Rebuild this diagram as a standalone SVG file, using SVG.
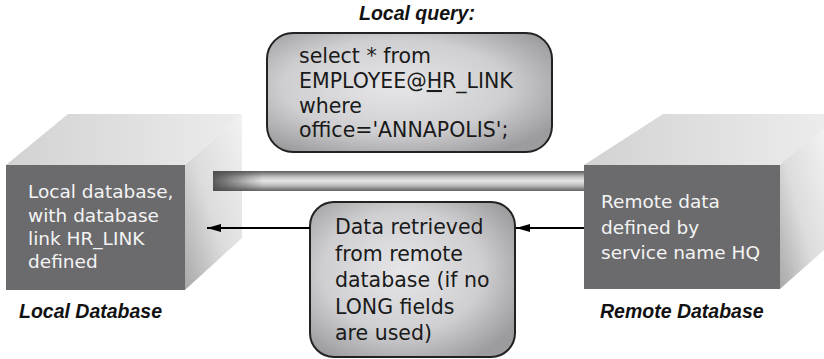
<svg xmlns="http://www.w3.org/2000/svg" width="824" height="359" viewBox="0 0 824 359">
<defs>
<linearGradient id="topFace" x1="0" y1="0" x2="1" y2="0"><stop offset="0" stop-color="#d2d2d2"/><stop offset="1" stop-color="#ececec"/></linearGradient>
<linearGradient id="sideFace" x1="1" y1="0" x2="0" y2="1"><stop offset="0" stop-color="#f2f2f2"/><stop offset="0.55" stop-color="#dcdcdc"/><stop offset="1" stop-color="#a8a8a8"/></linearGradient>
<linearGradient id="barV" x1="0" y1="0" x2="0" y2="1"><stop offset="0" stop-color="#5e5e5e"/><stop offset="0.3" stop-color="#c4c4c4"/><stop offset="0.5" stop-color="#e6e6e6"/><stop offset="0.72" stop-color="#bdbdbd"/><stop offset="1" stop-color="#646464"/></linearGradient>
<linearGradient id="barH" x1="0" y1="0" x2="1" y2="0"><stop offset="0" stop-color="#4a4a4a" stop-opacity="0.9"/><stop offset="1" stop-color="#4a4a4a" stop-opacity="0"/></linearGradient>
<radialGradient id="boxFill" cx="0.45" cy="0.45" r="0.65"><stop offset="0" stop-color="#e6e6e8"/><stop offset="0.6" stop-color="#cfcfd1"/><stop offset="1" stop-color="#9c9c9e"/></radialGradient>
<marker id="arrow" viewBox="0 0 14 8" refX="14" refY="4" markerWidth="14" markerHeight="8" markerUnits="userSpaceOnUse" orient="auto"><path d="M0,0 L14,4 L0,8 Z" fill="#000"/></marker>
</defs>
<style>
.front{fill:#6b6b6d}
.ctext{font-family:"DejaVu Sans","Liberation Sans",sans-serif;font-size:18.5px;fill:#f4f4f4}
.btext{font-family:"DejaVu Sans","Liberation Sans",sans-serif;font-size:20.5px;fill:#1a1a1a}
.label{font-family:"Liberation Sans",Arial,sans-serif;font-size:19.5px;font-weight:bold;font-style:italic;fill:#111}
.box{fill:url(#boxFill);stroke:#222;stroke-width:2}
.conn{stroke:#000;stroke-width:2;fill:none}
</style>

<g id="local-db">
<polygon points="6,165 68,114 242,114 185,165" fill="url(#topFace)"/>
<polygon points="185,165 242,114 242,238 185,290" fill="url(#sideFace)"/>
<rect class="front" x="6" y="165" width="179" height="125"/>
<text class="ctext"><tspan x="28" y="198">Local database,</tspan><tspan x="28" y="221.5">with database</tspan><tspan x="28" y="245">link HR_LINK</tspan><tspan x="28" y="268">defined</tspan></text>
<text class="label" x="19" y="318">Local Database</text>
</g>

<g id="remote-db">
<polygon points="584,165 663,114 824,114 824,165" fill="url(#topFace)"/>
<polygon points="780,165 824,128 824,250 780,289" fill="url(#sideFace)"/>
</g>

<g id="link-bar">
<rect x="213" y="171" width="371" height="20" fill="url(#barV)"/>
<rect x="213" y="171" width="50" height="20" fill="url(#barH)"/>
</g>

<g id="remote-front">
<rect class="front" x="584" y="165" width="196" height="124"/>
<text class="ctext"><tspan x="601" y="208">Remote data</tspan><tspan x="601" y="233.5">defined by</tspan><tspan x="601" y="259">service name HQ</tspan></text>
<text class="label" x="600" y="318">Remote Database</text>
</g>

<g id="query">
<text class="label" x="417" y="20" text-anchor="middle" font-size="18">Local query:</text>
<rect class="box" x="267" y="33" width="285" height="119" rx="26" ry="26"/>
<text class="btext"><tspan x="299" y="63">select * from</tspan><tspan x="299" y="88">EMPLOYEE@<tspan text-decoration="underline">H</tspan>R_LINK</tspan><tspan x="299" y="112.5">where</tspan><tspan x="299" y="137">office='ANNAPOLIS';</tspan></text>
</g>

<g id="result">
<rect class="box" x="310" y="202" width="205" height="155" rx="24" ry="24"/>
<text class="btext"><tspan x="335" y="234">Data retrieved</tspan><tspan x="335" y="260.5">from remote</tspan><tspan x="335" y="287">database (if no</tspan><tspan x="335" y="313.5">LONG fields</tspan><tspan x="335" y="340">are used)</tspan></text>
</g>

<g id="connectors">
<line class="conn" x1="310" y1="228" x2="207" y2="228" marker-end="url(#arrow)"/>
<line class="conn" x1="584" y1="228" x2="516" y2="228" marker-end="url(#arrow)"/>
</g>
</svg>
